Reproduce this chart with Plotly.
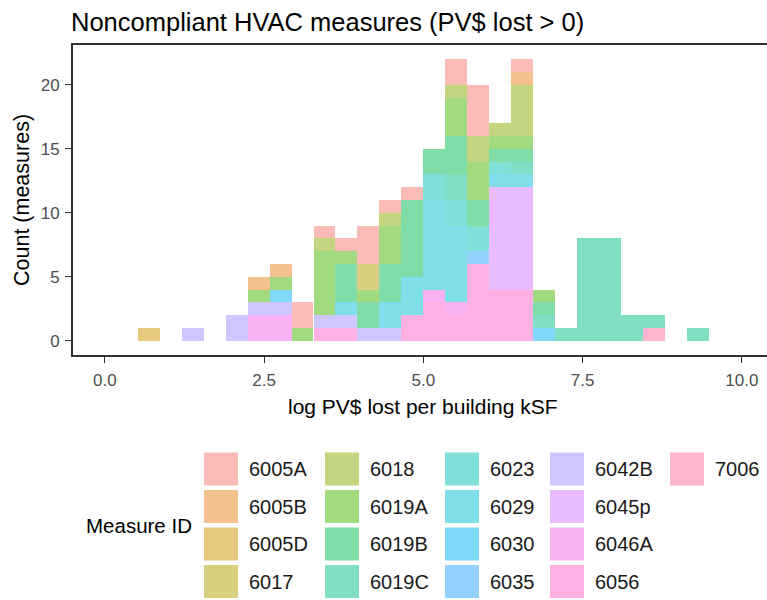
import math
import plotly.graph_objects as go

# ---------------- data ----------------
bin_centers = [0.690, 1.034, 1.379, 1.724, 2.069, 2.414, 2.759, 3.103, 3.448, 3.793,
               4.138, 4.483, 4.828, 5.172, 5.517, 5.862, 6.207, 6.552, 6.897, 7.241,
               7.586, 7.931, 8.276, 8.621, 8.966, 9.310]
bin_width = 0.3448

measure_ids = ["6005A", "6005B", "6005D", "6017", "6018", "6019A", "6019B", "6019C",
               "6023", "6029", "6030", "6035", "6042B", "6045p", "6046A", "6056", "7006"]

#        bins: 0  1  2  3  4  5  6  7  8  9 10 11 12 13 14 15 16 17 18 19 20 21 22 23 24 25
c_6005A = [0, 0, 0, 0, 0, 0, 0, 2, 1, 1, 3, 1, 1, 0, 2, 4, 0, 1, 0, 0, 0, 0, 0, 0, 0, 0]
c_6005B = [0, 0, 0, 0, 0, 1, 1, 0, 0, 0, 0, 0, 0, 0, 0, 0, 0, 1, 0, 0, 0, 0, 0, 0, 0, 0]
c_6005D = [1, 0, 0, 0, 0, 0, 0, 0, 0, 0, 0, 0, 0, 0, 0, 0, 0, 0, 0, 0, 0, 0, 0, 0, 0, 0]
c_6017  = [0, 0, 0, 0, 0, 0, 0, 0, 0, 0, 2, 0, 0, 0, 0, 0, 0, 0, 0, 0, 0, 0, 0, 0, 0, 0]
c_6018  = [0, 0, 0, 0, 0, 0, 0, 0, 1, 0, 0, 1, 0, 0, 1, 2, 1, 4, 0, 0, 0, 0, 0, 0, 0, 0]
c_6019A = [0, 0, 0, 0, 0, 1, 1, 1, 5, 1, 1, 3, 0, 0, 3, 3, 1, 1, 1, 0, 0, 0, 0, 0, 0, 0]
c_6019B = [0, 0, 0, 0, 0, 0, 0, 0, 0, 3, 2, 3, 6, 2, 3, 2, 1, 1, 1, 0, 0, 0, 0, 0, 0, 0]
c_6019C = [0, 0, 0, 0, 0, 0, 0, 0, 0, 0, 0, 0, 0, 0, 2, 0, 0, 1, 1, 1, 8, 8, 2, 1, 0, 1]
c_6023  = [0, 0, 0, 0, 0, 0, 0, 0, 0, 0, 0, 0, 0, 2, 2, 2, 1, 0, 0, 0, 0, 0, 0, 0, 0, 0]
c_6029  = [0, 0, 0, 0, 0, 0, 0, 0, 0, 1, 0, 2, 3, 7, 6, 0, 1, 1, 0, 0, 0, 0, 0, 0, 0, 0]
c_6030  = [0, 0, 0, 0, 0, 0, 1, 0, 0, 0, 0, 0, 0, 0, 0, 0, 0, 0, 1, 0, 0, 0, 0, 0, 0, 0]
c_6035  = [0, 0, 0, 0, 0, 0, 0, 0, 0, 0, 0, 0, 0, 0, 0, 1, 0, 0, 0, 0, 0, 0, 0, 0, 0, 0]
c_6042B = [0, 0, 1, 0, 2, 1, 1, 0, 1, 1, 1, 1, 0, 0, 0, 0, 0, 0, 0, 0, 0, 0, 0, 0, 0, 0]
c_6045p = [0, 0, 0, 0, 0, 0, 0, 0, 0, 0, 0, 0, 0, 0, 0, 0, 8, 8, 0, 0, 0, 0, 0, 0, 0, 0]
c_6046A = [0, 0, 0, 0, 0, 2, 2, 0, 0, 0, 0, 0, 0, 1, 1, 0, 0, 0, 0, 0, 0, 0, 0, 0, 0, 0]
c_6056  = [0, 0, 0, 0, 0, 0, 0, 0, 1, 1, 0, 0, 2, 3, 2, 6, 4, 4, 0, 0, 0, 0, 0, 0, 0, 0]
c_7006  = [0, 0, 0, 0, 0, 0, 0, 0, 0, 0, 0, 0, 0, 0, 0, 0, 0, 0, 0, 0, 0, 0, 0, 1, 0, 0]

measure_counts = [c_6005A, c_6005B, c_6005D, c_6017, c_6018, c_6019A, c_6019B, c_6019C,
                  c_6023, c_6029, c_6030, c_6035, c_6042B, c_6045p, c_6046A, c_6056, c_7006]

x_ticks = [0, 2.5, 5, 7.5, 10]
x_tick_labels = ["0.0", "2.5", "5.0", "7.5", "10.0"]
y_ticks = [0, 5, 10, 15, 20]
y_tick_labels = ["0", "5", "10", "15", "20"]


# ------------- ggplot hue palette (hcl, c=100, l=65) with alpha 0.5 on white -------------
def hcl_hex(h, c=100.0, l=65.0, alpha=0.5):
    hr = math.radians(h)
    u, v = c * math.cos(hr), c * math.sin(hr)
    Xn, Yn, Zn = 95.047, 100.0, 108.883
    den = Xn + 15 * Yn + 3 * Zn
    un, vn = 4 * Xn / den, 9 * Yn / den
    Y = Yn * ((l + 16) / 116) ** 3
    up, vp = u / (13 * l) + un, v / (13 * l) + vn
    X = Y * 9 * up / (4 * vp)
    Z = Y * (12 - 3 * up - 20 * vp) / (4 * vp)
    X, Y, Z = X / 100, Y / 100, Z / 100
    rl = 3.2404542 * X - 1.5371385 * Y - 0.4985314 * Z
    gl = -0.9692660 * X + 1.8760108 * Y + 0.0415560 * Z
    bl = 0.0556434 * X - 0.2040259 * Y + 1.0572252 * Z

    def gam(t):
        t = 12.92 * t if t <= 0.0031308 else 1.055 * t ** (1 / 2.4) - 0.055
        return min(max(t, 0.0), 1.0)

    rgb = [gam(t) * 255 for t in (rl, gl, bl)]
    rgb = [round(alpha * t + (1 - alpha) * 255) for t in rgb]
    return "#%02X%02X%02X" % tuple(rgb)


n = len(measure_ids)
hues = [15 + 360 * i / n for i in range(n)]
colors = [hcl_hex(h) for h in hues]

FONT = "Liberation Sans, Arial, sans-serif"

fig = go.Figure()
# ggplot stacks first level on top -> add traces bottom-up (reverse order)
for mid, counts, col in reversed(list(zip(measure_ids, measure_counts, colors))):
    fig.add_trace(go.Bar(
        x=bin_centers, y=counts, width=bin_width, name=mid,
        marker=dict(color=col, line=dict(width=0)),
        showlegend=False,
    ))

# ---- layout geometry (pixels) ----
W, H = 767, 600
L, R, T, B = 73, 0, 45, 245
pw, ph = W - L - R, H - T - B


def px(xp):
    return (xp - L) / pw


def py(yp):
    return (H - B - yp) / ph


shapes = []
annotations = []

# title
annotations.append(dict(text="Noncompliant HVAC measures (PV$ lost > 0)", x=px(69), y=py(22),
                        xref="paper", yref="paper", showarrow=False,
                        xanchor="left", yanchor="middle",
                        font=dict(family=FONT, size=25.5, color="#000000")))
# axis titles
annotations.append(dict(text="log PV$ lost per building kSF", x=px(423), y=py(406),
                        xref="paper", yref="paper", showarrow=False,
                        xanchor="center", yanchor="middle",
                        font=dict(family=FONT, size=21, color="#000000")))
annotations.append(dict(text="Count (measures)", x=px(22), y=py(200),
                        xref="paper", yref="paper", showarrow=False, textangle=-90,
                        xanchor="center", yanchor="middle",
                        font=dict(family=FONT, size=21.5, color="#000000")))

# manual ggplot-style legend (4 rows, filled by column)
annotations.append(dict(text="Measure ID", x=px(194), y=py(525), xref="paper", yref="paper",
                        showarrow=False, xanchor="right", yanchor="middle",
                        font=dict(family=FONT, size=20.5, color="#000000")))
col_key_left = [204, 325, 445, 550, 670]
row_key_top = [452.5, 490, 527.5, 565]
key_w, key_h = 34, 33
for i, (mid, col) in enumerate(zip(measure_ids, colors)):
    ci, ri = i // 4, i % 4
    x0 = col_key_left[ci]
    y0 = row_key_top[ri]
    shapes.append(dict(type="rect", xref="paper", yref="paper",
                       x0=px(x0), x1=px(x0 + key_w), y0=py(y0 + key_h), y1=py(y0),
                       fillcolor=col, line=dict(width=0), layer="above"))
    annotations.append(dict(text=mid, x=px(x0 + key_w + 9), y=py(y0 + key_h / 2),
                            xref="paper", yref="paper", showarrow=False,
                            xanchor="left", yanchor="middle",
                            font=dict(family=FONT, size=20, color="#1A1A1A")))

fig.update_layout(
    width=W, height=H,
    margin=dict(l=L, r=R, t=T, b=B, pad=0),
    paper_bgcolor="white", plot_bgcolor="white",
    barmode="stack", bargap=0,
    xaxis=dict(range=[-0.5, -0.5 + pw / 63.7], tickvals=x_ticks, ticktext=x_tick_labels,
               showgrid=False, zeroline=False, showline=True, linecolor="#333333",
               linewidth=1.8, mirror=True, ticks="outside", ticklen=6, tickwidth=1.4,
               tickcolor="#333333", ticklabelstandoff=3,
               tickfont=dict(family=FONT, size=17, color="#4D4D4D")),
    yaxis=dict(range=[-1.1, 23.1], tickvals=y_ticks, ticktext=y_tick_labels,
               showgrid=False, zeroline=False, showline=True, linecolor="#333333",
               linewidth=1.8, ticks="outside", ticklen=6, tickwidth=1.4,
               tickcolor="#333333", ticklabelstandoff=2,
               tickfont=dict(family=FONT, size=17, color="#4D4D4D")),
    shapes=shapes,
    annotations=annotations,
)

fig.write_html("out.html",
               config={"displayModeBar": False},
               post_script="document.body.style.margin='0';document.body.style.overflow='hidden';")
